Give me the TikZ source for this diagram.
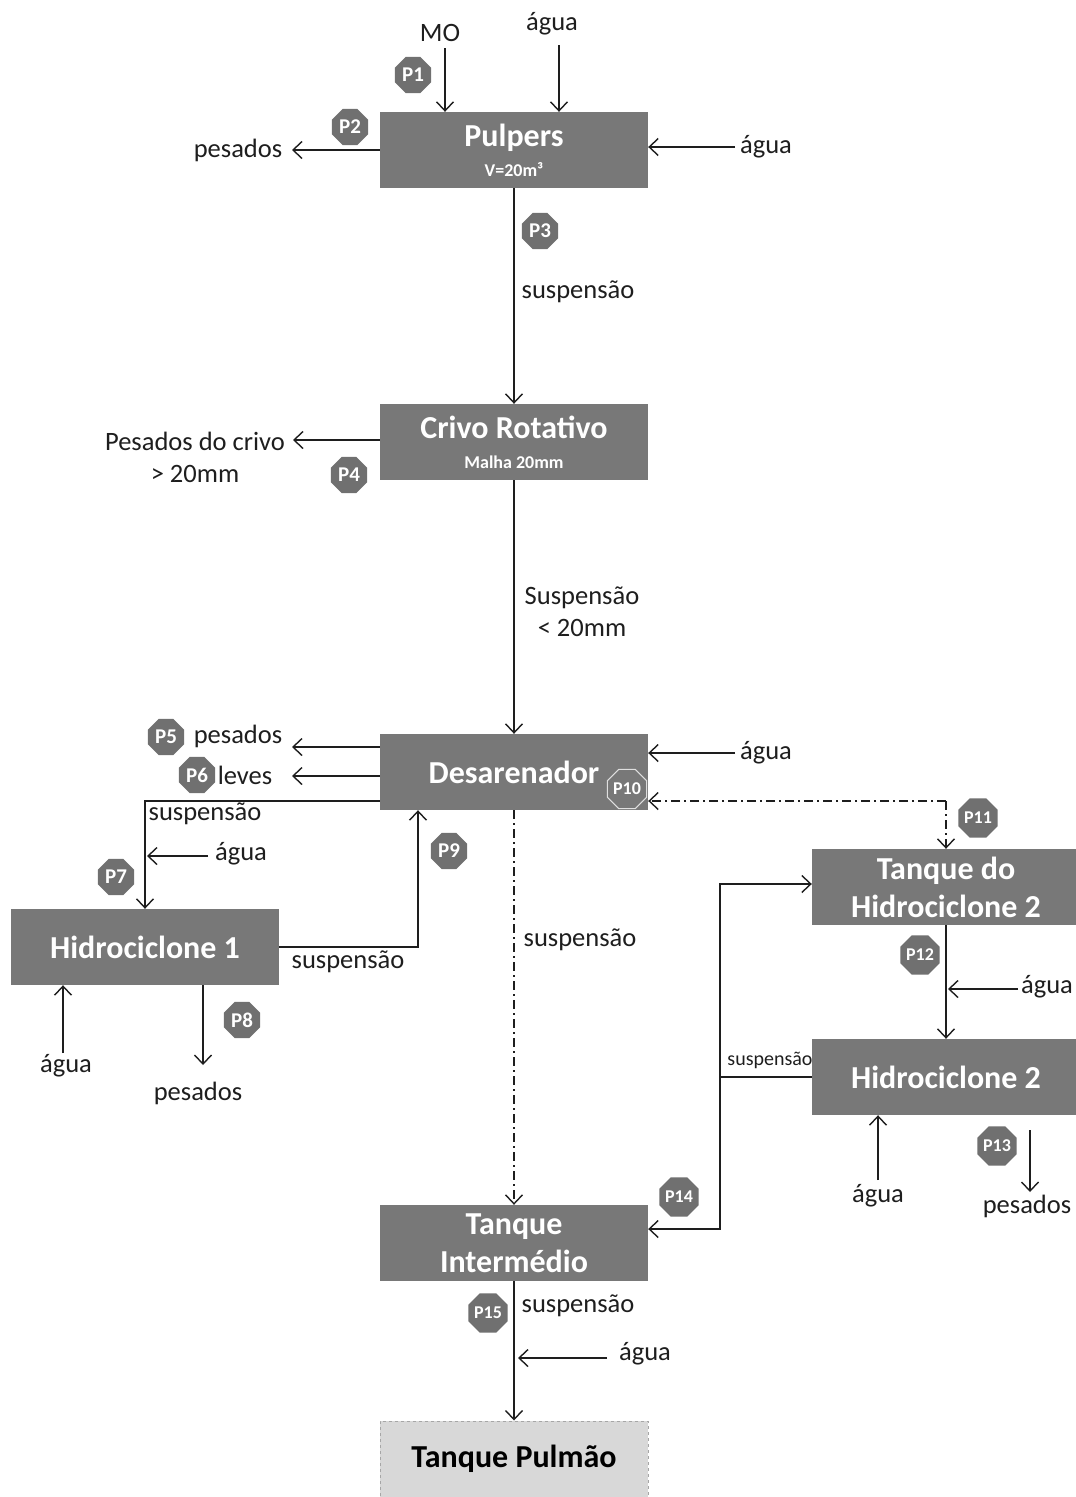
\documentclass[tikz,border=0pt]{standalone}
\usepackage{fontspec}
\setmainfont{Carlito}
\usetikzlibrary{arrows.meta,shapes.geometric}
\definecolor{boxgray}{RGB}{120,120,120}
\definecolor{taggray}{RGB}{112,112,112}
\definecolor{ink}{RGB}{30,30,30}
\definecolor{pulmfill}{RGB}{216,216,216}
\begin{document}
\begin{tikzpicture}[x=1pt,y=-1pt,
  unit/.style={fill=boxgray,text=white,minimum width=268pt,minimum height=76pt,
    inner sep=0pt,align=center,font=\fontsize{32}{38}\selectfont\bfseries},
  tag/.style={regular polygon,regular polygon sides=8,fill=taggray,text=white,
    minimum size=39pt,inner sep=0pt,font=\fontsize{21}{21}\selectfont\bfseries},
  lbl/.style={text=ink,inner sep=0pt,align=center,font=\fontsize{26.5}{32}\selectfont},
  flow/.style={draw=ink,line width=1.4pt,-{Straight Barb[length=9pt,width=17pt,line width=1.4pt]}},
  pipe/.style={draw=ink,line width=1.4pt},
  dashdot/.style={flow,dash pattern=on 9pt off 4pt on 2pt off 4pt}]
\useasboundingbox (0,0) rectangle (1076,1497);
\fill[white] (0,0) rectangle (1076,1497);

% process units
\node[unit] (pulp) at (514,150) {Pulpers\\[-8pt]{\fontsize{18}{20}\selectfont V=20m³}};
\node[unit] (criv) at (514,442) {Crivo Rotativo\\[-8pt]{\fontsize{18}{20}\selectfont Malha 20mm}};
\node[unit] (desa) at (514,772) {Desarenador};
\node[unit] (h1) at (145,947) {Hidrociclone 1};
\node[unit] (th2) at (946,887) {Tanque do\\Hidrociclone 2};
\node[unit] (h2) at (946,1077) {Hidrociclone 2};
\node[unit] (ti) at (514,1243) {Tanque\\Intermédio};
\node[unit,fill=pulmfill,text=black,draw=gray!70,dashed,line width=1pt] (pulm) at (514,1459) {Tanque Pulmão};

% stream labels
\node[lbl] (mo) at (440,33) {MO};
\node[lbl] (ag1) at (552,24) {água};
\node[lbl] (ag2) at (766,147) {água};
\node[lbl] (pes1) at (238,150) {pesados};
\node[lbl] (s1) at (578,292) {suspensão};
\node[lbl] (pcr) at (195,457) {Pesados do crivo\\> 20mm};
\node[lbl] (s2) at (582,612) {Suspensão\\< 20mm};
\node[lbl] (pes2) at (238,736) {pesados};
\node[lbl] (lev) at (245,775) {leves};
\node[lbl] (ag3) at (766,753) {água};
\node[lbl] (s3) at (205,814) {suspensão};
\node[lbl] (ag4) at (241,854) {água};
\node[lbl] (s4) at (348,962) {suspensão};
\node[lbl] (ag5) at (66,1066) {água};
\node[lbl] (pes3) at (198,1093) {pesados};
\node[lbl] (s5) at (580,940) {suspensão};
\node[lbl] (ag6) at (1047,987) {água};
\node[lbl,font=\fontsize{20}{24}\selectfont] (s6) at (770,1060) {suspensão};
\node[lbl] (ag7) at (878,1196) {água};
\node[lbl] (pes4) at (1027,1206) {pesados};
\node[lbl] (s7) at (578,1306) {suspensão};
\node[lbl] (ag8) at (645,1354) {água};

% free ends of streams
\coordinate (mo0) at (445,48);
\coordinate (ag10) at (559,45);
\coordinate (ag20) at (735,147);
\coordinate (pes10) at (292,150);
\coordinate (pcr0) at (293,440);
\coordinate (pes20) at (292,747);
\coordinate (lev0) at (292,776);
\coordinate (ag30) at (735,753);
\coordinate (ag40) at (208,856);
\coordinate (ag41) at (147,856);
\coordinate (ag50) at (63,1053);
\coordinate (pes30) at (203,1065);
\coordinate (j11) at (946,801);
\coordinate (ag60) at (1018,989);
\coordinate (ag61) at (948,989);
\coordinate (k1) at (720,1077);
\coordinate (ag70) at (878,1180);
\coordinate (p13a) at (1030,1130);
\coordinate (p13b) at (1030,1192);
\coordinate (ag80) at (607,1358);
\coordinate (ag81) at (518,1358);

% Pulpers
\draw[flow] (mo0) -- ([xshift=-69pt]pulp.north);
\draw[flow] (ag10) -- ([xshift=45pt]pulp.north);
\draw[flow] (ag20) -- ([yshift=3pt]pulp.east);
\draw[flow] (pulp.west) -- (pes10);
\draw[flow] (pulp.south) -- (criv.north);

% Crivo rotativo
\draw[flow] ([yshift=2pt]criv.west) -- (pcr0);
\draw[flow] (criv.south) -- (desa.north);

% Desarenador
\draw[flow] ([yshift=25pt]desa.west) -- (pes20);
\draw[flow] ([yshift=-4pt]desa.west) -- (lev0);
\draw[flow] (ag30) -- ([yshift=19pt]desa.east);
\draw[flow] ([yshift=-29pt]desa.west) -| (h1.north);
\draw[flow] (ag40) -- (ag41);
\draw[dashdot] (desa.south) -- (ti.north);

% Hidrociclone 1
\draw[flow] (h1.east) -| ([xshift=-96pt]desa.south);
\draw[flow] (ag50) -- ([xshift=-82pt]h1.south);
\draw[flow] ([xshift=58pt]h1.south) -- (pes30);

% recirculation to Desarenador and Tanque do Hidrociclone 2
\draw[dashdot] (j11) -- (desa.east |- j11);
\draw[dashdot] (j11) -- (th2.north);

% Hidrociclone 2
\draw[flow] (th2.south) -- (h2.north);
\draw[flow] (ag60) -- (ag61);
\draw[pipe] (h2.west) -- (k1);
\draw[flow] (k1) |- ([yshift=3pt]th2.west);
\draw[flow] (k1) |- ([yshift=14pt]ti.east);
\draw[flow] (ag70) -- ([xshift=-68pt]h2.south);
\draw[flow] (p13a) -- (p13b);

% Tanque intermedio
\draw[flow] (ti.south) -- (pulm.north);
\draw[flow] (ag80) -- (ag81);

% sampling points
\node[tag] (t1) at (413,75) {P1};
\node[tag] (t2) at (350,127) {P2};
\node[tag] (t3) at (540,231) {P3};
\node[tag] (t4) at (349,475) {P4};
\node[tag] (t5) at (166,737) {P5};
\node[tag] (t6) at (197,775) {P6};
\node[tag] (t7) at (116,877) {P7};
\node[tag] (t8) at (242,1020) {P8};
\node[tag] (t9) at (449,851) {P9};
\node[tag,fill=boxgray,draw=gray!25,line width=1pt,font=\fontsize{18}{18}\selectfont\bfseries] (t10) at (627,789) {P10};
\node[tag,font=\fontsize{18}{18}\selectfont\bfseries] (t11) at (978,818) {P11};
\node[tag,font=\fontsize{18}{18}\selectfont\bfseries] (t12) at (920,955) {P12};
\node[tag,font=\fontsize{18}{18}\selectfont\bfseries] (t13) at (997,1146) {P13};
\node[tag,font=\fontsize{18}{18}\selectfont\bfseries] (t14) at (679,1197) {P14};
\node[tag,font=\fontsize{18}{18}\selectfont\bfseries] (t15) at (488,1313) {P15};
\end{tikzpicture}
\end{document}
